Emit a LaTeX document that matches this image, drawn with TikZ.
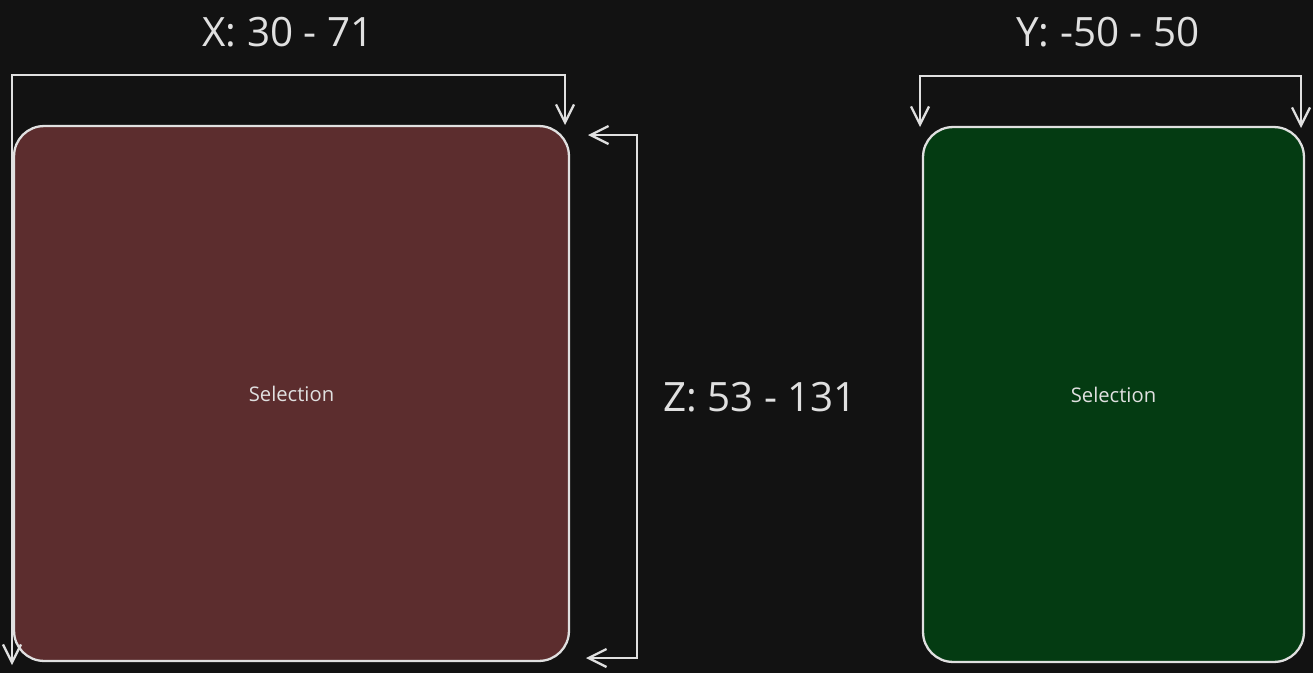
\documentclass[tikz,border=0pt]{standalone}
\usepackage{fontspec}
\setmainfont{Open Sans}
\usetikzlibrary{arrows.meta, positioning}
\definecolor{bgdark}{HTML}{121212}
\definecolor{linegray}{HTML}{E0E0E0}
\definecolor{redsel}{HTML}{5C2D2E}
\definecolor{greensel}{HTML}{043B12}
\tikzset{
    selbox/.style={draw=linegray, line width=1.3pt, rounded corners=0.6cm,
        inner sep=0pt, text=linegray, font=\fontsize{11.5}{14}\selectfont},
    bracket/.style={draw=linegray, line width=1.3pt,
        {Straight Barb[length=0.36cm, width=0.36cm]}-{Straight Barb[length=0.36cm, width=0.36cm]}},
    rangelabel/.style={text=linegray, font=\fontsize{23}{27}\selectfont}
}

\begin{document}
\begin{tikzpicture}[x=0.02cm, y=-0.02cm]
        \fill[bgdark] (0, 0) rectangle (1313, 673);
        \node[selbox, fill=redsel, minimum width=11.1cm, minimum height=10.7cm] (xsel) at (291.5, 393.5) {Selection};
        \node[selbox, fill=greensel, minimum width=7.62cm, minimum height=10.7cm] (ysel) at (1113.5, 394.5) {Selection};
        \node[rangelabel] (xlabel) at (288, 32) {X: 30 - 71};
        \node[rangelabel] (ylabel) at (1108, 32) {Y: -50 - 50};
        \node[rangelabel, anchor=west] (zlabel) at (657, 397) {Z: 53 - 131};
        % x range
        \coordinate (xa) at (12, 665);
        \coordinate (xb) at (12, 75);
        \coordinate (xc) at (565, 75);
        \coordinate (xd) at (565, 125);
        \draw[bracket] (xa) -- (xb) -- (xc) -- (xd);
        % z range
        \coordinate (za) at (588, 135);
        \coordinate (zb) at (637, 135);
        \coordinate (zc) at (637, 658);
        \coordinate (zd) at (586, 658);
        \draw[bracket] (za) -- (zb) -- (zc) -- (zd);
        % y range
        \coordinate (ya) at (920, 127);
        \coordinate (yb) at (920, 76);
        \coordinate (yc) at (1301, 76);
        \coordinate (yd) at (1301, 128);
        \draw[bracket] (ya) -- (yb) -- (yc) -- (yd);
    \end{tikzpicture}
\end{document}
